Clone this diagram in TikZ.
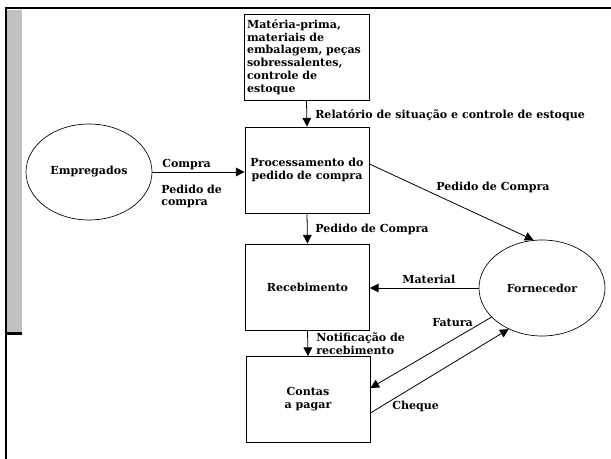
\documentclass[tikz,border=0pt]{standalone}
\usepackage{fontspec}
\setmainfont{DejaVu Serif}
\usetikzlibrary{arrows.meta,calc,shapes.geometric}
\definecolor{bandgrey}{RGB}{192,192,192}
\begin{document}
\begin{tikzpicture}[x=0.75pt,y=-0.75pt,
  txt/.style={font=\bfseries\fontsize{8.3}{9.6}\selectfont},
  lbl/.style={txt, inner sep=0pt},
  boxnode/.style={txt, draw, line width=0.65pt, minimum width=93pt, minimum height=64.5pt, inner sep=0pt, align=center},
  ellnode/.style={txt, draw, ellipse, line width=0.5pt, minimum width=94.5pt, minimum height=72pt, inner sep=0pt},
  flow/.style={line width=0.6pt, -{Triangle[length=6.5pt,width=6.5pt]}}]
\useasboundingbox[fill=white] (0,0) rectangle (611,459);
% frame
\fill[bandgrey] (7.3,10) rectangle (21.7,332);
\draw[line width=1.8pt] (5,8) -- (611,8);
\draw[line width=1.8pt] (6.2,7) -- (6.2,459);
\draw[line width=2pt] (5,333.3) -- (21.7,333.3);
% nodes
\node[boxnode, text width=89.25pt, align=left, minimum width=93.75pt] (stock) at (306.5,57)
  {Matéria-prima,\\materiais de\\embalagem, peças\\sobressalentes,\\controle de\\estoque};
\node[boxnode] (proc) at (307,170) {Processamento do\\pedido de compra};
\node[boxnode] (rec) at (307.5,287) {Recebimento};
\node[boxnode] (pay) at (308,399.5) {Contas\\a pagar};
\node[ellnode] (emp) at (89,172) {Empregados};
\node[ellnode] (forn) at (542,288) {Fornecedor};
% connectors
\draw[flow] (stock.south) -- (proc.north);
\draw[flow] (emp.east) -- (emp.east -| proc.west);
\draw[flow] ($(proc.east)+(0,-6)$) -- (forn.100);
\draw[flow] (proc.south) -- (rec.north);
\draw[flow] (forn.west) -- (forn.west -| rec.east);
\draw[flow] (rec.south) -- (pay.north);
\draw[flow] (forn.210) -- ($(pay.east)+(0,-11.5)$);
\draw[flow] ($(pay.east)+(0,13.5)$) -- (forn.231);
% labels
\node[lbl, anchor=mid west] (l1) at (315,115) {Relatório de situação e controle de estoque};
\node[lbl, anchor=mid west] (l2) at (162,164) {Compra};
\node[lbl, anchor=north west, align=left] (l3) at (161,184.5) {Pedido de\\compra};
\node[lbl, anchor=mid west] (l4) at (436,187) {Pedido de Compra};
\node[lbl, anchor=mid west] (l5) at (315,229) {Pedido de Compra};
\node[lbl, anchor=mid west] (l6) at (402,280) {Material};
\node[lbl, anchor=north west, align=left] (l7) at (316,332.5) {Notificação de\\recebimento};
\node[lbl, anchor=mid west] (l8) at (432,323) {Fatura};
\node[lbl, anchor=mid west] (l9) at (392,406) {Cheque};
\end{tikzpicture}
\end{document}
